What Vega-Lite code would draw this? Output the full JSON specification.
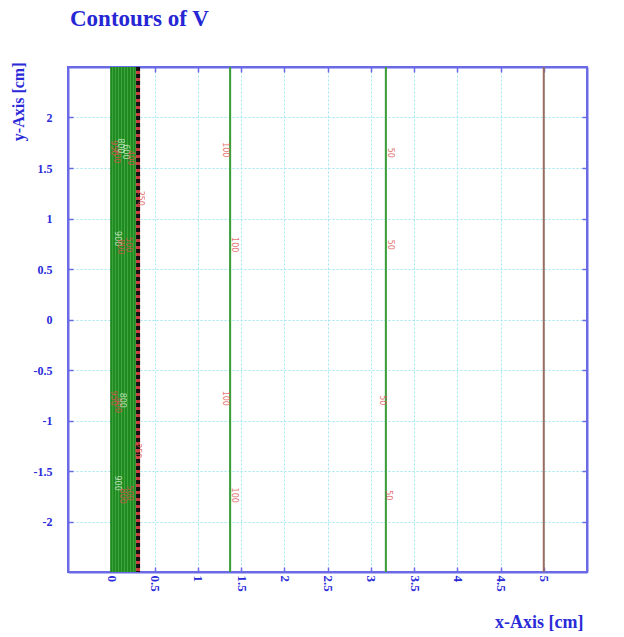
{
  "$schema": "https://vega.github.io/schema/vega-lite/v6.json",
  "autosize": "none",
  "width": 519,
  "height": 505,
  "padding": {"left": 68, "top": 67, "right": 37, "bottom": 65},
  "background": "white",
  "title": {
    "text": "Contours of V",
    "anchor": "start",
    "frame": "group",
    "font": "Liberation Serif",
    "fontSize": 23,
    "fontWeight": "bold",
    "color": "#2626d4",
    "offset": 31,
    "dx": 2
  },
  "config": {
    "view": {"stroke": "#6a6ae6", "strokeWidth": 2},
    "axis": {
      "domainColor": "#6a6ae6",
      "domainWidth": 2,
      "tickColor": "#6a6ae6",
      "tickWidth": 1.5,
      "tickSize": -5,
      "gridColor": "#9fe6ee",
      "gridDash": [2, 2],
      "gridWidth": 1,
      "labelFont": "Liberation Serif",
      "labelFontWeight": "bold",
      "labelFontSize": 12,
      "labelColor": "#2a2ad8",
      "labelExpr": "datum.value + ''",
      "titleFont": "Liberation Serif",
      "titleFontWeight": "bold",
      "titleColor": "#2a2ad8"
    }
  },
  "resolve": {
    "axis": {"x": "independent", "y": "independent"},
    "scale": {"color": "independent"}
  },
  "datasets": {
    "levels": [
      {"x": 0.0, "group": "band"},
      {"x": 0.034, "group": "band"},
      {"x": 0.068, "group": "band"},
      {"x": 0.102, "group": "band"},
      {"x": 0.136, "group": "band"},
      {"x": 0.17, "group": "band"},
      {"x": 0.204, "group": "band"},
      {"x": 0.238, "group": "band"},
      {"x": 0.272, "group": "band"},
      {"x": 1.374, "group": "mid"},
      {"x": 3.175, "group": "mid"},
      {"x": 5.0, "group": "edge"}
    ],
    "labels": [
      {"x": 0.02, "y": 1.7, "text": "950", "kind": "red"},
      {"x": 0.05, "y": 1.62, "text": "900", "kind": "red"},
      {"x": 0.1, "y": 1.72, "text": "800", "kind": "white"},
      {"x": 0.16, "y": 1.66, "text": "600", "kind": "white"},
      {"x": 0.22, "y": 1.6, "text": "400", "kind": "red"},
      {"x": 0.33, "y": 1.2, "text": "250", "kind": "red"},
      {"x": 0.07, "y": 0.8, "text": "900", "kind": "white"},
      {"x": 0.1, "y": 0.72, "text": "800", "kind": "red"},
      {"x": 0.19, "y": 0.74, "text": "500", "kind": "red"},
      {"x": 0.02, "y": -0.78, "text": "950", "kind": "red"},
      {"x": 0.07, "y": -0.85, "text": "900", "kind": "red"},
      {"x": 0.12, "y": -0.8, "text": "800", "kind": "white"},
      {"x": 0.3, "y": -1.3, "text": "250", "kind": "red"},
      {"x": 0.07, "y": -1.62, "text": "900", "kind": "white"},
      {"x": 0.12, "y": -1.75, "text": "800", "kind": "red"},
      {"x": 0.2, "y": -1.72, "text": "500", "kind": "red"},
      {"x": 1.31, "y": 1.68, "text": "100", "kind": "red"},
      {"x": 1.42, "y": 0.74, "text": "100", "kind": "red"},
      {"x": 1.31, "y": -0.78, "text": "100", "kind": "red"},
      {"x": 1.42, "y": -1.74, "text": "100", "kind": "red"},
      {"x": 3.22, "y": 1.65, "text": "50", "kind": "red"},
      {"x": 3.22, "y": 0.74, "text": "50", "kind": "red"},
      {"x": 3.13, "y": -0.8, "text": "50", "kind": "red"},
      {"x": 3.2, "y": -1.74, "text": "50", "kind": "red"}
    ]
  },
  "layer": [
    {
      "data": {"values": [{"x": 0.0}]},
      "mark": {"type": "rule", "strokeWidth": 0},
      "encoding": {
        "x": {
          "field": "x",
          "type": "quantitative",
          "scale": {"domain": [-0.5, 5.5], "nice": false, "zero": false},
          "axis": {
            "orient": "bottom",
            "values": [0, 0.5, 1, 1.5, 2, 2.5, 3, 3.5, 4, 4.5, 5],
            "labelAngle": 90,
            "labelAlign": "left",
            "labelBaseline": "middle",
            "labelPadding": 8,
            "labelFontSize": 13,
            "title": "x-Axis [cm]",
            "titleFontSize": 18,
            "titleAnchor": "end",
            "titleAlign": "right",
            "titleBaseline": "middle",
            "titleX": 515,
            "titleY": 50
          }
        },
        "y": {
          "field": "x",
          "type": "quantitative",
          "scale": {"domain": [-2.5, 2.5], "nice": false, "zero": false},
          "axis": {
            "orient": "left",
            "values": [-2, -1.5, -1, -0.5, 0, 0.5, 1, 1.5, 2],
            "labelPadding": 21,
            "title": "y-Axis [cm]",
            "titleFontSize": 16,
            "titleAngle": -90,
            "titleAlign": "right",
            "titleBaseline": "middle",
            "titleX": -50,
            "titleY": -5
          }
        }
      }
    },
    {
      "data": {"values": [{"x": 0.0}]},
      "mark": {"type": "rule", "strokeWidth": 0},
      "encoding": {
        "x": {
          "field": "x",
          "type": "quantitative",
          "axis": {
            "orient": "top",
            "values": [0, 0.5, 1, 1.5, 2, 2.5, 3, 3.5, 4, 4.5, 5],
            "labels": false,
            "grid": false,
            "title": null
          }
        },
        "y": {
          "field": "x",
          "type": "quantitative",
          "axis": {
            "orient": "right",
            "values": [-2, -1.5, -1, -0.5, 0, 0.5, 1, 1.5, 2],
            "labels": false,
            "grid": false,
            "title": null
          }
        }
      }
    },
    {
      "data": {"values": [{"x0": 0.0, "x1": 0.272}]},
      "mark": {"type": "rect", "color": "#4caf4c", "y": 0, "y2": {"expr": "height"}},
      "encoding": {
        "x": {"field": "x0", "type": "quantitative", "axis": null},
        "x2": {"field": "x1"}
      }
    },
    {
      "data": {"name": "levels"},
      "mark": {"type": "rule"},
      "encoding": {
        "x": {"field": "x", "type": "quantitative", "axis": null},
        "color": {
          "field": "group",
          "type": "nominal",
          "scale": {"domain": ["band", "mid", "edge"], "range": ["#1f8a1f", "#3f9f3f", "#9a6e60"]},
          "legend": null
        },
        "strokeWidth": {
          "field": "group",
          "type": "nominal",
          "scale": {"domain": ["band", "mid", "edge"], "range": [2.2, 2, 2]},
          "legend": null
        }
      }
    },
    {
      "data": {"values": [{"x": 0.31}]},
      "mark": {"type": "rule", "color": "#c83c3c", "strokeWidth": 4},
      "encoding": {"x": {"field": "x", "type": "quantitative", "axis": null}}
    },
    {
      "data": {"values": [{"x": 0.31}]},
      "mark": {"type": "rule", "color": "#111111", "strokeWidth": 4, "strokeDash": [4, 3]},
      "encoding": {"x": {"field": "x", "type": "quantitative", "axis": null}}
    },
    {
      "data": {"name": "labels"},
      "mark": {"type": "text", "angle": 90, "fontSize": 8, "font": "DejaVu Sans", "opacity": 0.8},
      "encoding": {
        "x": {"field": "x", "type": "quantitative", "axis": null},
        "y": {"field": "y", "type": "quantitative", "axis": null},
        "text": {"field": "text"},
        "color": {
          "field": "kind",
          "type": "nominal",
          "scale": {"domain": ["red", "white"], "range": ["#e05050", "#d8f0d0"]},
          "legend": null
        }
      }
    }
  ]
}
